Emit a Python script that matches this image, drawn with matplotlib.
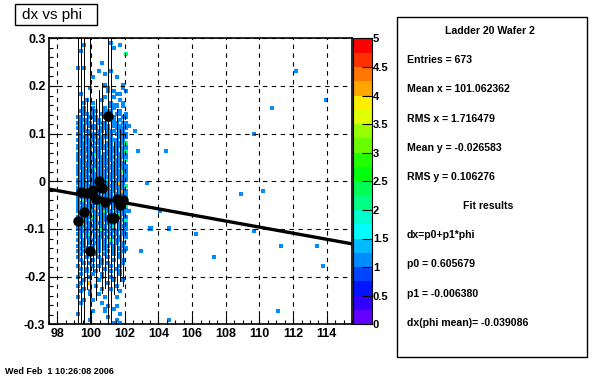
import colorsys
import numpy as np
import matplotlib
matplotlib.use("Agg")
import matplotlib.pyplot as plt
from matplotlib.colors import ListedColormap, BoundaryNorm
from matplotlib.patches import Rectangle
from matplotlib.ticker import MultipleLocator

plt.rcParams['font.family'] = ['Liberation Sans', 'DejaVu Sans']
plt.rcParams['axes.unicode_minus'] = False

# ---------------- data ----------------
x_range = (97.5, 115.5)
y_range = (-0.3, 0.3)
n_bins = 100

# dense band: one character per cell, columns = x bins 9..25, rows = y bins 99 (top) .. 0
dense_first_xbin = 9
dense_rows = [
    ".................",  # 99
    "...........1.....",
    "..1...........1..",
    "............1....",
    ".1...............",
    "................2",
    ".................",
    ".................",
    "........1........",
    ".................",
    "1.1..............",  # 89
    ".......1...1.....",
    ".........1.......",
    ".....1.......1...",
    ".................",
    ".................",
    ".........1.....1.",
    "....1.....1....1.",
    "..........1.1...1",
    ".1...........11..",
    ".........1..1....",  # 79
    "...1....1.....1..",
    "..1..1.....1...1.",
    "...........111.1.",
    "..1..1...1..1....",
    ".11..11..111..1..",  # 74
    "..11.1..11...11.1",
    "11..111..1.11..11",
    ".111..11..111.1..",
    "11.11..111..11.11",
    ".11.111..11.111.1",  # 69
    "111..11.111..1111",
    ".1111..11.111.11.",
    "11..1111..11.1111",
    ".111.11.1111..111",
    "11.111.11..111.1.",
    ".1111.111.11.1112",
    "111.11..1111.11.1",
    "1.111.1111.111.11",
    ".1111.11..1111.12",
    "111.1121.111.1111",  # 59
    "1.1111.111.11.111",
    "111.111.1111.11.2",
    ".1111.11111.1111.",
    "11.1111.11.111111",
    "111.11211.1111.11",
    "1.1111.1111.11121",
    "1111.11111.1111.1",
    ".111111.11111.111",
    "111.111.1121.1111",
    "1111.111111.1141.",  # 49
    ".1111111.11111112",
    "111.1111111.1111.",
    "1111.1111.111.141",
    "11.11211.111.1111",
    "1111.1111111.1211",
    "1.211.11111.111.1",
    "111.111.21111.111",
    "1.1111.1111.111.2",
    "11.11141111.11.11",
    "111.111.1211.1111",  # 39
    ".1111.1111.11.21.",
    "11.1121.111.111.1",
    "1111.11.111.11.12",
    "1.211.111.111.1.1",
    ".11.111.11.12.111",
    "11.11.1.21.11.1.1",
    ".111.1.11.1.11.1.",
    "11.12.1.11.1.1.11",
    ".1.11.111.1.1.1.1",
    "1.1.11.1.1.2.11..",  # 29
    ".11.1.11.1.1.1.1.",
    "1.1..1.1.11.1..1.",
    ".1.11..1.1..1.1.1",
    "1.1..1.1..1.1..1.",
    ".1..1.1..1..1.1..",  # 24
    "1..1...1..1...1..",
    ".1...1..1...1..1.",
    "..1.1...1.1....1.",
    "1....1.1...1..1..",
    ".1.1.....1...1...",  # 19
    "...1..1....1..1..",
    ".1...1..1.....1..",
    "1...1...1..1.....",
    "..1....1....1..1.",
    ".1..4.....1......",
    "1.....1......1...",
    "..1.....1..1.....",
    ".1..1.........1..",
    "....1..1.........",
    "1........1...1...",  # 9
    "..1..1...........",
    ".1......1........",
    "..........1..1...",
    ".........1..1....",
    ".....1...1.......",
    "1.............1..",
    "..........1......",
    "....1........1...",
    "............1.1..",  # 0
]

# isolated single entries (phi, dx)
sparse_phi = [112.17, 114.00, 110.73, 102.32, 102.67, 109.66, 102.85, 104.45,
              103.37, 108.97, 110.21, 102.32, 104.10, 103.56, 104.63, 106.24,
              109.66, 103.00, 107.36, 111.30, 113.40, 113.78, 111.10, 104.63]
sparse_dx = [0.231, 0.171, 0.152, 0.117, 0.104, 0.099, 0.062, 0.062,
             -0.004, -0.027, -0.022, -0.064, -0.064, -0.100, -0.100, -0.112,
             -0.106, -0.148, -0.159, -0.136, -0.136, -0.178, -0.274, -0.292]

# profile points
prof_phi = [99.21, 99.39, 99.57, 99.75, 99.93, 100.11, 100.29, 100.47,
            100.65, 100.83, 101.01, 101.19, 101.37, 101.55, 101.73, 101.91]
prof_dx = [-0.083, -0.022, -0.064, -0.025, -0.147, -0.018, -0.038, 0.001,
           -0.014, -0.044, 0.137, -0.076, -0.077, -0.038, -0.050, -0.039]
prof_err = [0.50, 0.50, 0.45, 0.20, 0.50, 0.17, 0.21, 0.19,
            0.22, 0.18, 0.50, 0.45, 0.16, 0.19, 0.16, 0.18]

# fit parameters
p0 = 0.605679
p1 = -0.006380

stats_title = "Ladder 20 Wafer 2"
stats_lines = ["Entries = 673", "Mean x = 101.062362", "RMS x = 1.716479",
               "Mean y = -0.026583", "RMS y = 0.106276"]
fit_title = "Fit results"
fit_lines = ["dx=p0+p1*phi", "p0 = 0.605679", "p1 = -0.006380",
             "dx(phi mean)= -0.039086"]

xticks = [98, 100, 102, 104, 106, 108, 110, 112, 114]
yticks = [-0.3, -0.2, -0.1, 0.0, 0.1, 0.2, 0.3]
ytick_labels = ["-0.3", "-0.2", "-0.1", "0", "0.1", "0.2", "0.3"]
cb_ticks = [0, 0.5, 1, 1.5, 2, 2.5, 3, 3.5, 4, 4.5, 5]
cb_labels = ["0", "0.5", "1", "1.5", "2", "2.5", "3", "3.5", "4", "4.5", "5"]

# ---------------- histogram ----------------
xe = np.linspace(x_range[0], x_range[1], n_bins + 1)
ye = np.linspace(y_range[0], y_range[1], n_bins + 1)
xc = 0.5 * (xe[:-1] + xe[1:])
yc = 0.5 * (ye[:-1] + ye[1:])

xs, ys, ws = [], [], []
for r, row in enumerate(dense_rows):
    j = 99 - r
    for i, ch in enumerate(row[:17]):
        if ch.isdigit() and ch != "0":
            xs.append(xc[dense_first_xbin + i])
            ys.append(yc[j])
            ws.append(int(ch))
xs += sparse_phi
ys += sparse_dx
ws += [1] * len(sparse_phi)

H, _, _ = np.histogram2d(xs, ys, bins=[xe, ye], weights=ws)
jj, ii = np.nonzero(H.T)
cell_x = xc[ii]
cell_y = yc[jj]
cell_n = H.T[jj, ii]

# ROOT "pretty" palette, 20 contour levels
cols = []
for i in range(20):
    idx = int((i + 0.99) * 50 / 20)
    hue = 280 - (idx + 1) * 5.6
    cols.append(colorsys.hls_to_rgb(hue / 360.0, 0.5, 1.0))
cmap = ListedColormap(cols)
norm = BoundaryNorm(np.linspace(0, 5, 21), 20)

# ---------------- figure ----------------
W, Hpx = 600, 380
fig = plt.figure(figsize=(6, 3.8), dpi=100, facecolor="white")

def fx(px):
    return px / W

def fy(py):
    return 1 - py / Hpx

ax_l, ax_r, ax_t, ax_b = 49, 352, 38.3, 324.3
ax = fig.add_axes([fx(ax_l), fy(ax_b), fx(ax_r - ax_l), (ax_b - ax_t) / Hpx])
cells = ax.scatter(cell_x, cell_y, c=cell_n, cmap=cmap, norm=norm,
                   marker="s", s=8.5, linewidths=0, zorder=1)

ax.set_xlim(*x_range)
ax.set_ylim(*y_range)
ax.set_xticks(xticks)
ax.set_yticks(yticks)
ax.set_yticklabels(ytick_labels)
ax.xaxis.set_minor_locator(MultipleLocator(0.5))
ax.yaxis.set_minor_locator(MultipleLocator(0.02))
ax.tick_params(which="major", direction="in", length=6.5, width=0.8,
               labelsize=9, top=False, right=False)
ax.tick_params(which="minor", direction="in", length=3, width=0.8,
               top=False, right=False)
ax.tick_params(axis="y", pad=2.5)
ax.tick_params(axis="x", pad=2.5)
for lab in ax.get_xticklabels() + ax.get_yticklabels():
    lab.set_fontweight("bold")
for sp in ax.spines.values():
    sp.set_linewidth(1.2)

ax.set_axisbelow(False)
ax.grid(True, which="major", color="black", linestyle=(0, (4, 4)),
        linewidth=0.8, zorder=2)

fit_x = np.array(x_range)
ax.plot(fit_x, p0 + p1 * fit_x, color="black", lw=2.4,
        solid_capstyle="butt", zorder=4)
eb = ax.errorbar(prof_phi, prof_dx, yerr=prof_err, fmt="o", color="black",
                 ms=6.5, elinewidth=0.72, capsize=0, zorder=5)
for coll in eb[2]:
    coll.set_antialiased(False)

# colour scale
cax = fig.add_axes([fx(353.5), fy(ax_b), fx(18), (ax_b - ax_t) / Hpx])
cb = fig.colorbar(cells, cax=cax, ticks=cb_ticks)
cb.ax.set_yticklabels(cb_labels)
cb.ax.tick_params(direction="in", length=7, width=0.8, pad=1, labelsize=8)
for lab in cb.ax.get_yticklabels():
    lab.set_fontweight("bold")
cb.outline.set_linewidth(0.8)
cb.ax.minorticks_off()

# title box
fig.add_artist(Rectangle((fx(15), fy(25.3)), fx(81.7), 21 / Hpx,
                         transform=fig.transFigure, facecolor="white",
                         edgecolor="black", lw=1))
fig.text(fx(21.5), fy(15), "dx vs phi", fontsize=11, va="center", ha="left")

# stats box
fig.add_artist(Rectangle((fx(397), fy(357)), fx(190), 340 / Hpx,
                         transform=fig.transFigure, facecolor="white",
                         edgecolor="black", lw=1))
line_y = [31, 60, 89.3, 119, 148, 177, 206, 234.7, 264, 294, 323.3]
fig.text(fx(490), fy(line_y[0]), stats_title, fontsize=7.6, fontweight="bold",
         ha="center", va="center")
for k, s in enumerate(stats_lines):
    fig.text(fx(406.7), fy(line_y[1 + k]), s, fontsize=7.6, fontweight="bold",
             ha="left", va="center")
fig.text(fx(488), fy(line_y[6]), fit_title, fontsize=7.6, fontweight="bold",
         ha="center", va="center")
for k, s in enumerate(fit_lines):
    fig.text(fx(406.7), fy(line_y[7 + k]), s, fontsize=7.6, fontweight="bold",
             ha="left", va="center")

fig.text(fx(5), fy(372), "Wed Feb  1 10:26:08 2006", fontsize=6.5,
         fontweight="bold", ha="left", va="center")

fig.savefig("out.png", dpi=100, facecolor="white")
